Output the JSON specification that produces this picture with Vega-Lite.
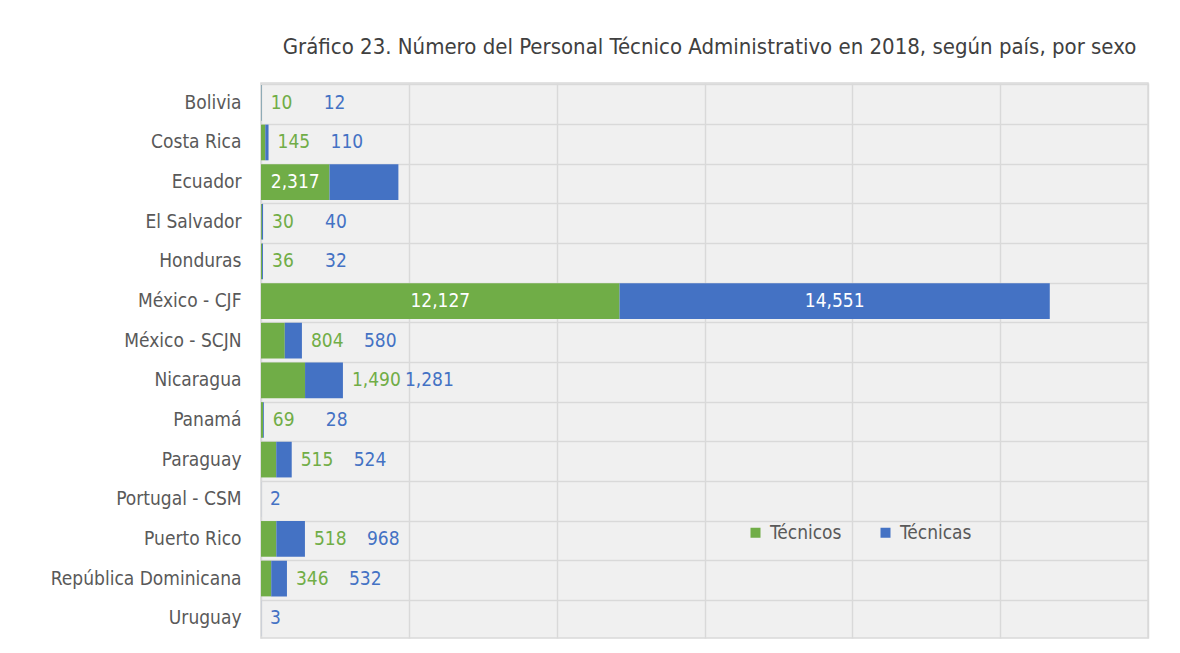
{
  "$schema": "https://vega.github.io/schema/vega-lite/v6.json",
  "autosize": {"type": "none"},
  "padding": {"left": 261, "top": 83, "right": 32, "bottom": 15},
  "width": 887,
  "height": 555,
  "background": "white",
  "config": {
    "font": "DejaVu Sans Condensed",
    "view": {"stroke": "#d9d9d9", "strokeWidth": 1.5, "fill": "#f0f0f0"}
  },
  "title": {
    "text": "Gráfico 23. Número del Personal Técnico Administrativo en 2018, según país, por sexo",
    "fontSize": 22,
    "fontWeight": "normal",
    "color": "#404040",
    "anchor": "middle",
    "dx": 5,
    "offset": 24
  },
  "data": {
    "values": [
      {"pais": "Bolivia", "sexo": "Técnicos", "n": 10},
      {"pais": "Bolivia", "sexo": "Técnicas", "n": 12},
      {"pais": "Costa Rica", "sexo": "Técnicos", "n": 145},
      {"pais": "Costa Rica", "sexo": "Técnicas", "n": 110},
      {"pais": "Ecuador", "sexo": "Técnicos", "n": 2317},
      {"pais": "Ecuador", "sexo": "Técnicas", "n": 2330},
      {"pais": "El Salvador", "sexo": "Técnicos", "n": 30},
      {"pais": "El Salvador", "sexo": "Técnicas", "n": 40},
      {"pais": "Honduras", "sexo": "Técnicos", "n": 36},
      {"pais": "Honduras", "sexo": "Técnicas", "n": 32},
      {"pais": "México - CJF", "sexo": "Técnicos", "n": 12127},
      {"pais": "México - CJF", "sexo": "Técnicas", "n": 14551},
      {"pais": "México - SCJN", "sexo": "Técnicos", "n": 804},
      {"pais": "México - SCJN", "sexo": "Técnicas", "n": 580},
      {"pais": "Nicaragua", "sexo": "Técnicos", "n": 1490},
      {"pais": "Nicaragua", "sexo": "Técnicas", "n": 1281},
      {"pais": "Panamá", "sexo": "Técnicos", "n": 69},
      {"pais": "Panamá", "sexo": "Técnicas", "n": 28},
      {"pais": "Paraguay", "sexo": "Técnicos", "n": 515},
      {"pais": "Paraguay", "sexo": "Técnicas", "n": 524},
      {"pais": "Portugal - CSM", "sexo": "Técnicas", "n": 2},
      {"pais": "Puerto Rico", "sexo": "Técnicos", "n": 518},
      {"pais": "Puerto Rico", "sexo": "Técnicas", "n": 968},
      {"pais": "República Dominicana", "sexo": "Técnicos", "n": 346},
      {"pais": "República Dominicana", "sexo": "Técnicas", "n": 532},
      {"pais": "Uruguay", "sexo": "Técnicas", "n": 3}
    ]
  },
  "transform": [
    {"stack": "n", "groupby": ["pais"], "sort": [{"field": "sexo", "order": "descending"}], "as": ["x0", "x1"]},
    {"joinaggregate": [{"op": "sum", "field": "n", "as": "total"}, {"op": "count", "as": "cnt"}], "groupby": ["pais"]},
    {"calculate": "(datum.x0 + datum.x1) / 2", "as": "mid"}
  ],
  "encoding": {
    "y": {
      "field": "pais",
      "type": "nominal",
      "sort": null,
      "scale": {"paddingInner": 0.1, "paddingOuter": 0.05},
      "axis": {
        "title": null,
        "ticks": false,
        "domain": false,
        "labelFontSize": 19,
        "labelColor": "#595959",
        "labelPadding": 20,
        "labelLimit": 400,
        "grid": true,
        "bandPosition": 0,
        "gridColor": "#d9d9d9",
        "gridWidth": 1.5
      }
    }
  },
  "layer": [
    {
      "mark": {"type": "bar"},
      "encoding": {
        "x": {
          "field": "x0",
          "type": "quantitative",
          "scale": {"domain": [0, 30000], "nice": false},
          "axis": {
            "title": null,
            "labels": false,
            "ticks": false,
            "domain": false,
            "values": [0, 5000, 10000, 15000, 20000, 25000, 30000],
            "grid": true,
            "gridColor": "#d9d9d9",
            "gridWidth": 1.5
          }
        },
        "x2": {"field": "x1"},
        "color": {
          "field": "sexo",
          "type": "nominal",
          "scale": {"domain": ["Técnicos", "Técnicas"], "range": ["#70ad47", "#4472c4"]},
          "legend": {
            "title": null,
            "orient": "none",
            "legendX": 485,
            "legendY": 440,
            "direction": "horizontal",
            "symbolType": "square",
            "symbolSize": 100,
            "symbolStrokeWidth": 0,
            "labelFontSize": 19,
            "labelColor": "#595959",
            "labelOffset": 5,
            "columnPadding": 34
          }
        }
      }
    },
    {
      "transform": [{"filter": "datum.pais == 'México - CJF' || (datum.pais == 'Ecuador' && datum.sexo == 'Técnicos')"}],
      "mark": {"type": "text", "color": "white", "fontSize": 19, "align": "center", "baseline": "middle"},
      "encoding": {
        "x": {"field": "mid", "type": "quantitative"},
        "text": {"field": "n", "type": "quantitative", "format": ","}
      }
    },
    {
      "transform": [{"filter": "datum.sexo == 'Técnicos' && datum.pais != 'México - CJF' && datum.pais != 'Ecuador'"}],
      "mark": {"type": "text", "color": "#70ad47", "fontSize": 19, "align": "left", "baseline": "middle", "dx": 9},
      "encoding": {
        "x": {"field": "total", "type": "quantitative"},
        "text": {"field": "n", "type": "quantitative", "format": ","}
      }
    },
    {
      "transform": [{"filter": "datum.sexo == 'Técnicas' && datum.cnt == 2 && datum.pais != 'México - CJF' && datum.pais != 'Ecuador'"}],
      "mark": {"type": "text", "color": "#4472c4", "fontSize": 19, "align": "left", "baseline": "middle", "dx": 62},
      "encoding": {
        "x": {"field": "total", "type": "quantitative"},
        "text": {"field": "n", "type": "quantitative", "format": ","}
      }
    },
    {
      "transform": [{"filter": "datum.sexo == 'Técnicas' && datum.cnt == 1"}],
      "mark": {"type": "text", "color": "#4472c4", "fontSize": 19, "align": "left", "baseline": "middle", "dx": 9},
      "encoding": {
        "x": {"field": "total", "type": "quantitative"},
        "text": {"field": "n", "type": "quantitative", "format": ","}
      }
    }
  ]
}
